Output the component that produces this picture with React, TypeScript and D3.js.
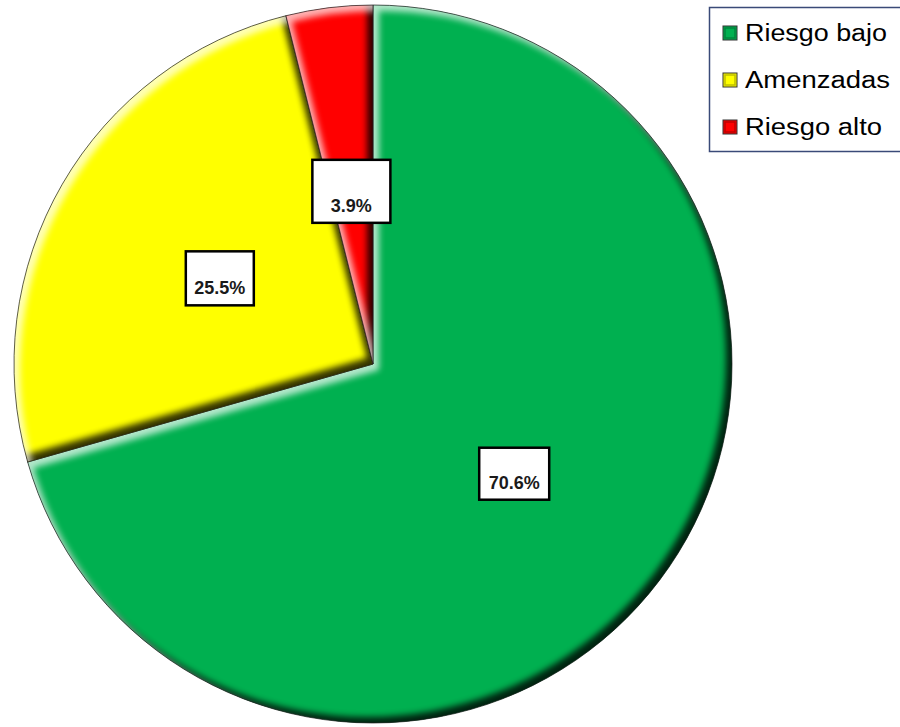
import React from "react";
import * as d3 from "d3";

const categories = ["Riesgo bajo", "Amenzadas", "Riesgo alto"];
const values = [70.6, 25.5, 3.9];
const labels = ["70.6%", "25.5%", "3.9%"];
const colors = ["#00b050", "#ffff00", "#ff0000"];

const W = 900;
const H = 727;
const CX = 373;
const CY = 364;
const R = 359;

export default function App() {
  const pie = d3.pie<number>().sort(null).value((d) => d);
  const arcs = pie(values);
  const arcGen = d3.arc<d3.PieArcDatum<number>>().innerRadius(0).outerRadius(R);
  const labelArc = d3.arc<d3.PieArcDatum<number>>().innerRadius(177).outerRadius(177);
  const big = `M${-CX - 50},${-CY - 50}H${W}V${H}H${-CX - 50}Z`;
  const boxSizes = [
    [70, 52],
    [68, 54],
    [78, 63],
  ];
  const legendWidths = [142, 145, 137];
  return (
    <svg width={W} height={H} style={{ position: "absolute", left: 0, top: 0 }} fontFamily="Liberation Sans, Arial, sans-serif">
      <defs>
        <filter id="blur4" x="-20%" y="-20%" width="140%" height="140%">
          <feGaussianBlur stdDeviation="3" />
        </filter>
        {arcs.map((a, i) => (
          <clipPath id={`clip${i}`} key={i}>
            <path d={arcGen(a) || ""} />
          </clipPath>
        ))}
      </defs>
      <g transform={`translate(${CX},${CY})`}>
        {arcs.map((a, i) => {
          const d = arcGen(a) || "";
          return (
            <g key={i}>
              <path d={d} fill={colors[i]} />
              <g clipPath={`url(#clip${i})`}>
                <path
                  d={`${big} ${d}`}
                  transform="translate(-6,-6)"
                  fillRule="evenodd"
                  fill="#000"
                  opacity={0.8}
                  filter="url(#blur4)"
                />
                <path
                  d={`${big} ${d}`}
                  transform="translate(6,6)"
                  fillRule="evenodd"
                  fill="#fff"
                  opacity={0.7}
                  filter="url(#blur4)"
                />
              </g>
              <path d={d} fill="none" stroke="#1a1a1a" strokeWidth={1} opacity={0.7} />
            </g>
          );
        })}
        {arcs.map((a, i) => {
          const [x, y0] = labelArc.centroid(a);
          const y = y0 + 3;
          const [bw, bh] = boxSizes[i];
          return (
            <g key={`l${i}`} transform={`translate(${x},${y})`}>
              <rect x={-bw / 2} y={-bh / 2} width={bw} height={bh} fill="#fff" stroke="#000" strokeWidth={2.5} />
              <text x={0} y={bh / 2 - 11} textAnchor="middle" fontSize={18} fontWeight="bold" fill="#1a1a1a">
                {labels[i]}
              </text>
            </g>
          );
        })}
      </g>
      <g>
        <rect x={709.5} y={7.5} width={200} height={144} fill="#fff" stroke="#3a4a78" strokeWidth={1.5} />
        {categories.map((c, i) => {
          const y = 33 + i * 47;
          return (
            <g key={c}>
              <rect x={723} y={y - 7} width={14} height={14} fill={colors[i]} stroke="#333" strokeWidth={1} />
              <rect x={725} y={y - 5} width={10} height={10} fill="none" stroke="#000" strokeOpacity={0.25} strokeWidth={1.5} />
              <text
                x={745}
                y={y}
                dy="0.36em"
                fontSize={23}
                fill="#000"
                textLength={legendWidths[i]}
                lengthAdjust="spacingAndGlyphs"
              >
                {c}
              </text>
            </g>
          );
        })}
      </g>
    </svg>
  );
}
